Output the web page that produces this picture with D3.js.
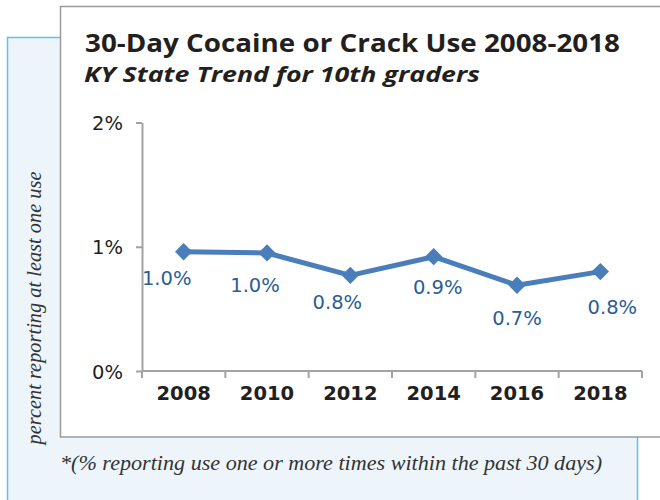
<!DOCTYPE html>
<html>
<head>
<meta charset="utf-8">
<script src="https://cdn.jsdelivr.net/npm/d3@7"></script>
<style>
  html, body { margin: 0; padding: 0; background: #ffffff; }
  svg { display: block; }
</style>
</head>
<body>
<svg id="chart" width="660" height="500"></svg>
<script>
// ---- data ----
const years = ["2008", "2010", "2012", "2014", "2016", "2018"];
const values = [0.96, 0.95, 0.77, 0.92, 0.69, 0.80];
const valueLabels = ["1.0%", "1.0%", "0.8%", "0.9%", "0.7%", "0.8%"];
const yTicks = [0, 1, 2];
const titleText = "30-Day Cocaine or Crack Use 2008-2018";
const subtitleText = "KY State Trend for 10th graders";
const yTitleText = "percent reporting at least one use";
const footnoteText = "*(% reporting use one or more times within the past 30 days)";
// label placement offsets (dx, dy from point) – styling
const labelOffsets = [[-17, 33], [-12, 39], [-13, 34], [4, 37], [0, 40], [12, 42]];

const svg = d3.select("#chart");

// background panel (light blue)
svg.append("rect")
  .attr("x", 7.5).attr("y", 37.5).attr("width", 630).attr("height", 480)
  .attr("fill", "#edf5fb").attr("stroke", "#5ec3ec").attr("stroke-width", 1.5);

// white chart box
svg.append("rect")
  .attr("x", 60.5).attr("y", 6.5).attr("width", 640).attr("height", 430.5)
  .attr("fill", "#ffffff").attr("stroke", "#9b9b9b").attr("stroke-width", 1.5);

// titles
svg.append("text")
  .attr("x", 85).attr("y", 52)
  .attr("font-family", "'Open Sans', sans-serif").attr("font-weight", "bold")
  .attr("font-size", 25).attr("fill", "#231f20")
  .attr("textLength", 535).attr("lengthAdjust", "spacingAndGlyphs")
  .text(titleText);
svg.append("text")
  .attr("x", 84).attr("y", 82)
  .attr("font-family", "'Open Sans', sans-serif").attr("font-weight", "bold")
  .attr("font-style", "italic")
  .attr("font-size", 22).attr("fill", "#231f20")
  .attr("textLength", 396).attr("lengthAdjust", "spacingAndGlyphs")
  .text(subtitleText);

// scales
const x = d3.scaleBand().domain(years).range([142, 642]).padding(0);
const y = d3.scaleLinear().domain([0, 2]).range([371, 122.5]);
const cx = d => x(d) + x.bandwidth() / 2;

const axisColor = "#a3a3a3";

// y axis
const yAxis = svg.append("g").attr("transform", "translate(142,0)")
  .call(d3.axisLeft(y).tickValues(yTicks).tickFormat(d => d + "%")
        .tickSize(6).tickSizeOuter(0).tickPadding(13));
yAxis.select(".domain").attr("stroke", axisColor).attr("stroke-width", 2);
yAxis.selectAll(".tick line").attr("stroke", axisColor).attr("stroke-width", 2);
yAxis.selectAll(".tick text")
  .attr("font-family", "'DejaVu Sans', sans-serif").attr("font-size", 19.5)
  .attr("fill", "#231f20").attr("dy", "0.36em");

// x axis: line + boundary ticks
const bounds = years.map(d => x(d)).concat([x.range()[1]]);
svg.append("line")
  .attr("x1", x.range()[0]).attr("x2", x.range()[1])
  .attr("y1", y(0)).attr("y2", y(0))
  .attr("stroke", axisColor).attr("stroke-width", 2);
svg.append("g").selectAll("line").data(bounds).join("line")
  .attr("x1", d => d).attr("x2", d => d)
  .attr("y1", y(0)).attr("y2", y(0) + 7)
  .attr("stroke", axisColor).attr("stroke-width", 2);
svg.append("g").selectAll("text").data(years).join("text")
  .attr("x", d => cx(d)).attr("y", 400)
  .attr("text-anchor", "middle")
  .attr("font-family", "'DejaVu Sans', sans-serif").attr("font-weight", "bold")
  .attr("font-size", 19.5).attr("fill", "#231f20")
  .text(d => d);

// line
const pts = years.map((yr, i) => ({ yr, v: values[i], i }));
const lineColor = "#4a7ebb";
svg.append("path")
  .datum(pts)
  .attr("d", d3.line().x(d => cx(d.yr)).y(d => y(d.v)))
  .attr("fill", "none").attr("stroke", lineColor).attr("stroke-width", 5)
  .attr("stroke-linejoin", "round");

// diamonds
svg.append("g").selectAll("path").data(pts).join("path")
  .attr("d", d3.symbol().type(d3.symbolSquare).size(150))
  .attr("transform", d => `translate(${cx(d.yr)},${y(d.v)}) rotate(45)`)
  .attr("fill", lineColor);

// data labels
svg.append("g").selectAll("text").data(pts).join("text")
  .attr("x", d => cx(d.yr) + labelOffsets[d.i][0])
  .attr("y", d => y(d.v) + labelOffsets[d.i][1])
  .attr("text-anchor", "middle")
  .attr("font-family", "'DejaVu Sans', sans-serif")
  .attr("font-size", 19.5).attr("fill", "#2c5d96")
  .text((d) => valueLabels[d.i]);

// y title
svg.append("text")
  .attr("transform", "translate(41,308) rotate(-90)")
  .attr("text-anchor", "middle")
  .attr("font-family", "'Liberation Serif', serif").attr("font-style", "italic")
  .attr("font-size", 20).attr("fill", "#333333")
  .attr("textLength", 273).attr("lengthAdjust", "spacingAndGlyphs")
  .text(yTitleText);

// footnote
svg.append("text")
  .attr("x", 60).attr("y", 470)
  .attr("font-family", "'Liberation Serif', serif").attr("font-style", "italic")
  .attr("font-size", 20).attr("fill", "#333333")
  .attr("textLength", 542).attr("lengthAdjust", "spacingAndGlyphs")
  .text(footnoteText);
</script>
</body>
</html>
